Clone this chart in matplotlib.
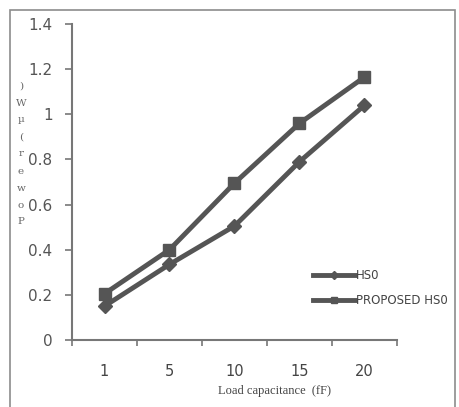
import numpy as np
import matplotlib.pyplot as plt
from matplotlib.patches import Rectangle

load_cap = ['1', '5', '10', '15', '20']
hs0 = [0.15, 0.335, 0.505, 0.79, 1.04]
proposed_hs0 = [0.205, 0.40, 0.695, 0.96, 1.165]
ylabel_chars = list('Power(µW)')

fig = plt.figure(figsize=(4.6, 4.07), dpi=100)
fig.patches.append(Rectangle((10 / 460, -0.01), 445 / 460, 1 - 10 / 407 + 0.01,
                             transform=fig.transFigure, fill=False,
                             edgecolor='#8c8c8c', linewidth=1.2))
ax = fig.add_axes([72 / 460, 1 - 340 / 407, 325 / 460, 316 / 407])

x = np.arange(1, len(load_cap) + 1)
line_col = '#555555'
ax.plot(x, hs0, color=line_col, lw=3.5, marker='D', ms=7, label='HS0')
ax.plot(x, proposed_hs0, color=line_col, lw=3.5, marker='s', ms=8,
        label='PROPOSED HS0')

ax.set_xlim(0.5, len(load_cap) + 0.5)
ax.set_ylim(0, 1.4)
ax.set_yticks(np.arange(0, 1.41, 0.2))
ax.set_yticklabels(['0', '0.2', '0.4', '0.6', '0.8', '1', '1.2', '1.4'])
ax.set_xticks(x)
ax.set_xticklabels(load_cap)
ax.set_xticks(np.arange(0.5, len(load_cap) + 1), minor=True)
ax.tick_params(axis='x', which='major', length=0, pad=17, labelsize=10.5,
               labelcolor='#444444')
ax.tick_params(axis='x', which='minor', length=4, color='#777777', width=1.2)
ax.tick_params(axis='y', length=5, color='#777777', width=1.2, labelsize=11,
               labelcolor='#555555', pad=9)

for side in ['top', 'right']:
    ax.spines[side].set_visible(False)
for side in ['left', 'bottom']:
    ax.spines[side].set_color('#777777')
    ax.spines[side].set_linewidth(1.5)

ax.legend(loc='lower right', bbox_to_anchor=(1.19, 0.07), frameon=False,
          fontsize=8.5, handlelength=3.6, labelspacing=1.0, handletextpad=0.1,
          markerscale=0.6, labelcolor='#444444')

# stacked vertical axis label, reading upward
for k, ch in enumerate(ylabel_chars):
    fig.text(21 / 460, 1 - (222 - k * 17) / 407, ch, fontsize=7.5,
             color='#666666', ha='center', va='center',
             family='DejaVu Serif')

fig.text(275 / 460, 1 - 391 / 407, 'Load capacitance  (fF)', fontsize=9,
         family='Liberation Serif', color='#444444', ha='center', va='center')

fig.savefig('out.png', dpi=100)
